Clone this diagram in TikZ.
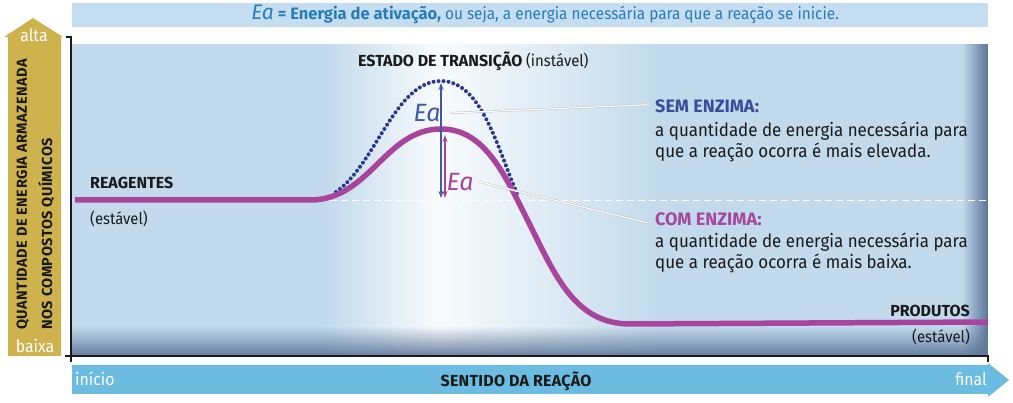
\documentclass[tikz,border=0pt]{standalone}
\usepackage{fontspec}
\setmainfont{Fira Sans}[UprightFeatures={FakeStretch=0.93}]
\usetikzlibrary{arrows.meta,fadings}
\definecolor{panel}{RGB}{194,218,236}
\definecolor{paneldark}{RGB}{92,116,152}
\definecolor{banner}{RGB}{196,221,240}
\definecolor{bannertext}{RGB}{40,125,185}
\definecolor{gold}{RGB}{206,178,78}
\definecolor{axisblue}{RGB}{108,188,226}
\definecolor{curve}{RGB}{168,68,155}
\definecolor{dots}{RGB}{44,56,140}
\definecolor{eablue}{RGB}{64,88,168}
\definecolor{semblue}{RGB}{58,76,156}
\definecolor{comred}{RGB}{166,72,156}
\definecolor{ink}{RGB}{26,26,26}
\begin{document}
\begin{tikzpicture}[x=1pt,y=-1pt,
  every node/.style={inner sep=0pt},
  bodytxt/.style={anchor=base west, text=ink, font=\fontsize{18.2}{21}\selectfont},
  headtxt/.style={anchor=base west, font=\fontsize{18}{21}\selectfont\bfseries},
  statelbl/.style={text=ink, font=\fontsize{16}{18}\selectfont\bfseries},
  stablelbl/.style={text=ink, font=\fontsize{16}{18}\selectfont},
  ealbl/.style={font=\fontsize{25}{25}\selectfont\itshape},
  leader/.style={draw=black!28, line width=0.4pt, double=white, double distance=1.2pt},
  eaarrow/.style={line width=1.3pt, {Stealth[length=7pt,width=5pt]}-{Stealth[length=7pt,width=5pt]}},
  axislbl/.style={anchor=base west, rotate=90, text=ink, font=\fontsize{14.5}{17}\selectfont\bfseries\addfontfeature{LetterSpace=3.5}},
  whitelbl/.style={text=white, font=\fontsize{17}{19}\selectfont},
]
\useasboundingbox (0,0) rectangle (1013,403);
\fill[white] (0,0) rectangle (1013,403);

% banner
\node[fill=banner, minimum width=916pt, minimum height=24pt, anchor=north west] (banner) at (72,3) {};
\node[anchor=base, text=bannertext, font=\fontsize{16.5}{18}\selectfont] (def) at (545,20)
  {{\fontsize{21}{21}\selectfont\itshape Ea} {\bfseries = Energia de ativação,} ou seja, a energia necessária para que a reação se inicie.};

% panel
\fill[panel] (72,44) rectangle (988,356);
\shade[left color=panel, right color=white!90!panel] (325,45) rectangle (438,355);
\shade[left color=white!90!panel, right color=panel] (438,45) rectangle (660,355);
\fill[paneldark, path fading=north, opacity=0.9] (72,326) rectangle (988,356);
\fill[paneldark, path fading=west] (962,44) rectangle (988,356);

% left energy arrow
\fill[gold] (8,356) -- (8,37) -- (4,37) -- (33,18) -- (63,37) -- (61,37) -- (61,356) -- cycle;
\node[whitelbl, anchor=base] (alta) at (34,42) {alta};
\node[whitelbl, anchor=base] (baixa) at (35,353) {baixa};
\node[axislbl] (ylab1) at (27,330) {QUANTIDADE DE ENERGIA ARMAZENADA};
\node[axislbl] (ylab2) at (52,330) {NOS COMPOSTOS QUÍMICOS};

% bottom direction arrow
\fill[axisblue] (72,365) -- (988,365) -- (988,363) -- (1009,380) -- (988,397) -- (988,394) -- (72,394) -- cycle;
\node[whitelbl, anchor=base west] (inicio) at (75,386) {início};
\node[whitelbl, anchor=base east] (final) at (987,386) {final};
\node[anchor=base, text=ink, font=\fontsize{16}{19}\selectfont\bfseries\addfontfeature{LetterSpace=1.5}] (sentido) at (516,387) {SENTIDO DA REAÇÃO};

% axes
\draw[ink, line width=1.5pt] (66,37) -- (71,37) -- (71,362);
\draw[ink, line width=1.5pt] (65,356) -- (988,356) -- (988,362);

% reference level
\coordinate (lvlA) at (330,201);
\coordinate (lvlB) at (988,201);
\draw[white, line width=1pt, dash pattern=on 7pt off 4pt] (lvlA) -- (lvlB);

% without enzyme (dotted)
\coordinate (d0) at (336,192);
\coordinate (dpk) at (441,81);
\coordinate (d1) at (518,196);
\draw[dots, line width=4pt, line cap=round, dash pattern=on 0pt off 5pt]
  (d0) .. controls (376,164) and (395,81) .. (dpk) .. controls (482,81) and (498,150) .. (d1);

% with enzyme (solid)
\coordinate (c0) at (75,200);
\coordinate (c1) at (310,200);
\coordinate (cpk) at (441,129);
\coordinate (c2) at (530,225);
\coordinate (c3) at (630,324);
\coordinate (c4) at (988,322);
\draw[curve, line width=5.5pt]
  (c0) -- (c1) .. controls (370,200) and (385,129) .. (cpk)
  .. controls (485,129) and (505,175) .. (c2)
  .. controls (555,275) and (575,324) .. (c3) -- (c4);

% Ea arrows
\coordinate (baseB) at (441,198);
\coordinate (topB) at (441,83);
\coordinate (baseM) at (445,198);
\coordinate (topM) at (445,135);
\draw[eaarrow, eablue] (baseB) -- (topB);
\draw[eaarrow, curve] (baseM) -- (topM);
\node[ealbl, text=eablue] (eab) at (427,113) {Ea};
\node[ealbl, text=curve] (eam) at (460,182) {Ea};

% labels
\node[statelbl, anchor=base west] (reag) at (90,189) {REAGENTES};
\node[stablelbl, anchor=base west] (reagst) at (90,225) {(estável)};
\node[statelbl, anchor=base east] (prod) at (970,317) {PRODUTOS};
\node[stablelbl, anchor=base east] (prodst) at (970,343) {(estável)};
\node[statelbl, anchor=base west] (estado) at (358,67) {ESTADO DE TRANSIÇÃO {\mdseries (instável)}};

\node[headtxt, text=semblue] (sem) at (655,113) {SEM ENZIMA:};
\node[bodytxt] (sem1) at (655,137) {a quantidade de energia necessária para};
\node[bodytxt] (sem2) at (655,158) {que a reação ocorra é mais elevada.};
\node[headtxt, text=comred] (com) at (655,226) {COM ENZIMA:};
\node[bodytxt] (com1) at (655,248) {a quantidade de energia necessária para};
\node[bodytxt] (com2) at (655,269) {que a reação ocorra é mais baixa.};

\draw[leader] ([xshift=-8pt,yshift=2pt]sem.west) -- ([xshift=10pt]eab.east);
\draw[leader] ([xshift=-8pt,yshift=-3pt]com.west) -- ([xshift=6pt]eam.east);
\end{tikzpicture}
\end{document}
